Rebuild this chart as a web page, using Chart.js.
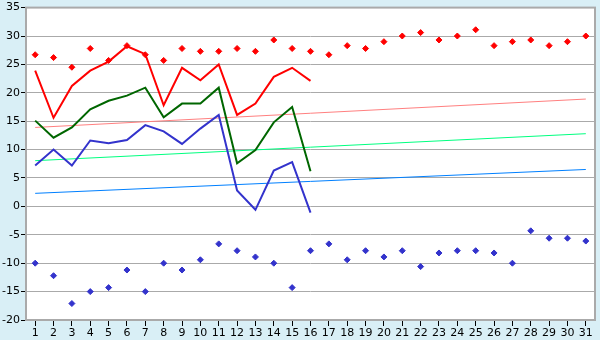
<!DOCTYPE html>
<html>
<head>
<meta charset="utf-8">
<script src="https://cdn.jsdelivr.net/npm/chart.js@4/dist/chart.umd.min.js"></script>
<style>
  html, body { margin: 0; padding: 0; background: #d9eff6; }
  #wrap { width: 600px; height: 340px; }
</style>
</head>
<body>
<div id="wrap"><canvas id="chart" width="600" height="340"></canvas></div>
<script>
// 날짜 라벨 (1~31일)
const days = ['1','2','3','4','5','6','7','8','9','10','11','12','13','14','15','16',
              '17','18','19','20','21','22','23','24','25','26','27','28','29','30','31'];

// 선 데이터 (1~16일)
const redLine   = [23.9, 15.6, 21.2, 23.9, 25.5, 28.2, 26.8, 17.8, 24.4, 22.2, 25.0, 16.1, 18.1, 22.8, 24.4, 22.1];
const greenLine = [15.1, 12.1, 13.9, 17.1, 18.6, 19.5, 20.9, 15.7, 18.1, 18.1, 20.9, 7.6, 9.9, 14.8, 17.5, 6.2];
const blueLine  = [7.2, 10.0, 7.2, 11.6, 11.1, 11.7, 14.3, 13.2, 11.0, 13.7, 16.1, 2.8, -0.6, 6.3, 7.8, -1.1];

// 점 데이터 (최고 / 최저)
const redPoints  = [26.7, 26.2, 24.5, 27.8, 25.7, 28.3, 26.7, 25.7, 27.8, 27.3, 27.3, 27.8, 27.3, 29.3, 27.8, 27.3,
                    26.7, 28.3, 27.8, 29.0, 30.0, 30.6, 29.3, 30.0, 31.1, 28.3, 29.0, 29.3, 28.3, 29.0, 30.0];
const bluePoints = [-10, -12.2, -17.1, -15, -14.3, -11.2, -15, -10, -11.2, -9.4, -6.6, -7.8, -8.9, -10, -14.3, -7.8,
                    -6.6, -9.4, -7.8, -8.9, -7.8, -10.6, -8.2, -7.8, -7.8, -8.2, -10, -4.3, -5.6, -5.6, -6.1];

// 추세선 (시작값, 끝값)
const pinkTrend  = [13.9, 18.9];
const greenTrend = [8.05, 12.8];
const blueTrend  = [2.3, 6.5];

// 축 눈금
const yMin = -20, yMax = 35, yStep = 5;

function padLine(arr) {
    const out = days.map(() => null);
    arr.forEach((v, i) => { out[i] = v; });
    return out;
}

function trendLine(pair) {
    const out = days.map(() => null);
    out[0] = pair[0];
    out[days.length - 1] = pair[1];
    return out;
}

// 배경 및 테두리 그리기
const framePlugin = {
    id: 'frame',
    beforeDraw(chart) {
        const c = chart.ctx;
        const a = chart.chartArea;
        c.save();
        c.fillStyle = '#d9eff6';
        c.fillRect(0, 0, chart.width, chart.height);
        c.fillStyle = '#ffffff';
        c.fillRect(a.left, a.top, a.right - a.left, a.bottom - a.top);
        c.restore();
    },
    afterDraw(chart) {
        const c = chart.ctx;
        const a = chart.chartArea;
        c.save();
        c.strokeStyle = '#aaaaaa';
        c.lineWidth = 2;
        c.strokeRect(a.left, a.top, a.right - a.left, a.bottom - a.top);
        c.restore();
    }
};

const trendStyle = (color) => ({
    borderColor: color,
    borderWidth: 1,
    pointRadius: 0,
    spanGaps: true,
    fill: false,
    tension: 0
});

const pointStyle = (color) => ({
    showLine: false,
    pointStyle: 'rectRot',
    pointRadius: 3,
    pointBackgroundColor: color,
    pointBorderColor: color,
    pointBorderWidth: 1,
    borderColor: color
});

const lineStyle = (color) => ({
    borderColor: color,
    borderWidth: 2,
    pointRadius: 0,
    fill: false,
    tension: 0
});

new Chart(document.getElementById('chart').getContext('2d'), {
    type: 'line',
    data: {
        labels: days,
        datasets: [
            { data: trendLine(pinkTrend),  order: 5, ...trendStyle('#ff8080') },
            { data: trendLine(greenTrend), order: 5, ...trendStyle('#00ff80') },
            { data: trendLine(blueTrend),  order: 5, ...trendStyle('#0080ff') },
            { data: padLine(redLine),   order: 3, ...lineStyle('#ff0000') },
            { data: padLine(greenLine), order: 3, ...lineStyle('#006600') },
            { data: padLine(blueLine),  order: 3, ...lineStyle('#3333cc') },
            { data: redPoints,  order: 1, ...pointStyle('#ff0000') },
            { data: bluePoints, order: 1, ...pointStyle('#3333cc') }
        ]
    },
    options: {
        responsive: false,
        animation: false,
        events: [],
        layout: { padding: { top: 5, right: 5, left: 0, bottom: 0 } },
        plugins: {
            legend: { display: false },
            tooltip: { enabled: false }
        },
        scales: {
            x: {
                offset: true,
                grid: {
                    drawOnChartArea: false,
                    tickLength: 6,
                    tickColor: '#000000',
                    tickWidth: 1
                },
                border: { display: false },
                ticks: {
                    color: '#000000',
                    padding: 1,
                    maxRotation: 0,
                    autoSkip: false,
                    font: { family: 'DejaVu Sans', size: 11 }
                },
                afterFit(scale) { scale.height = 20; }
            },
            y: {
                min: yMin,
                max: yMax,
                grid: {
                    color: '#aaaaaa',
                    lineWidth: 1,
                    tickLength: 5,
                    tickColor: '#000000'
                },
                border: { display: false },
                ticks: {
                    stepSize: yStep,
                    color: '#000000',
                    padding: 1,
                    font: { family: 'DejaVu Sans', size: 11 }
                },
                afterFit(scale) { scale.width = 26; }
            }
        }
    },
    plugins: [framePlugin]
});
</script>
</body>
</html>
